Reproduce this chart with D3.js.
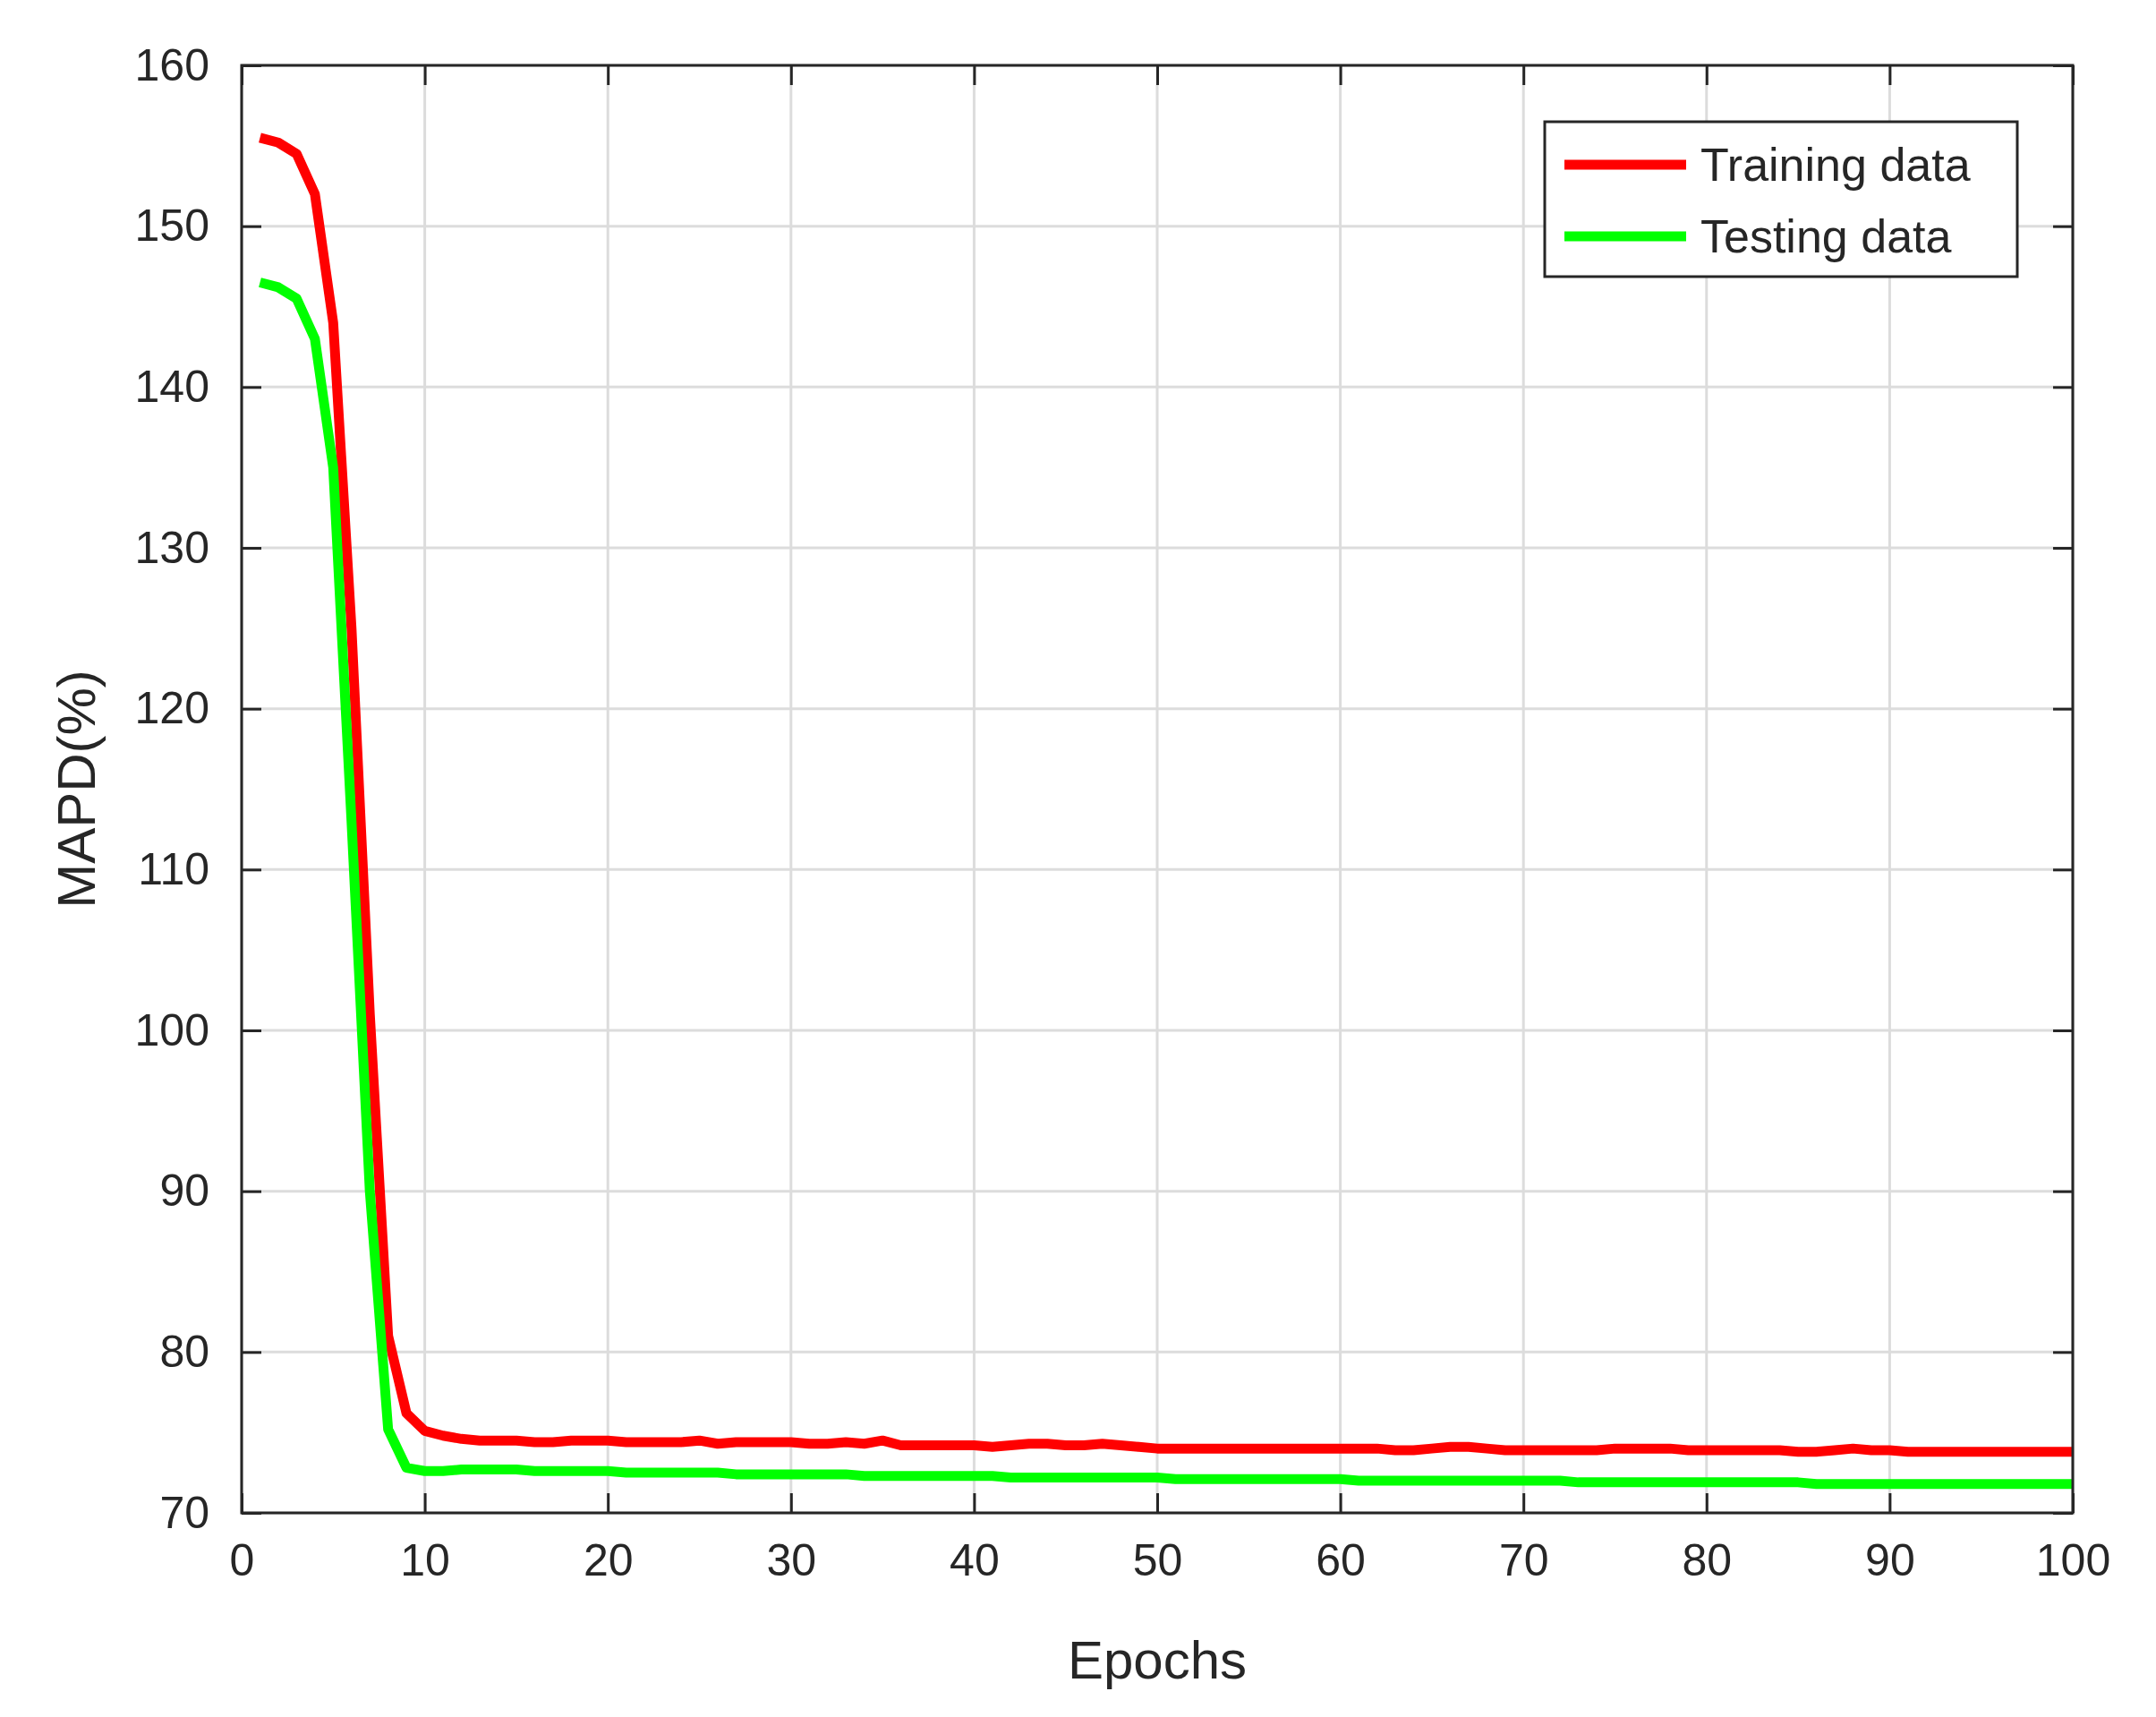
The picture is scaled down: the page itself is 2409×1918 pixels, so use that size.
<!DOCTYPE html>
<html><head><meta charset="utf-8">
<script src="https://cdn.jsdelivr.net/npm/d3@7"></script>
<style>body{margin:0;background:#fff}text{font-family:"Liberation Sans",Arial,sans-serif;fill:#262626}</style>
</head><body><svg id="c" width="2409" height="1918"></svg>
<script>
const epochs = d3.range(1, 101);
const training = [155.5,155.2,154.5,152,144,125,101,81,76.2,75.1,74.8,74.6,74.5,74.5,74.5,74.4,74.4,74.5,74.5,74.5,
74.4,74.4,74.4,74.4,74.5,74.3,74.4,74.4,74.4,74.4,74.3,74.3,74.4,74.3,74.5,74.2,74.2,74.2,74.2,74.2,
74.1,74.2,74.3,74.3,74.2,74.2,74.3,74.2,74.1,74.0,74.0,74.0,74.0,74.0,74.0,74.0,74.0,74.0,74.0,74.0,
74.0,74.0,73.9,73.9,74.0,74.1,74.1,74.0,73.9,73.9,73.9,73.9,73.9,73.9,74.0,74.0,74.0,74.0,73.9,73.9,
73.9,73.9,73.9,73.9,73.8,73.8,73.9,74.0,73.9,73.9,73.8,73.8,73.8,73.8,73.8,73.8,73.8,73.8,73.8,73.8];
const testing = [146.5,146.2,145.5,143,135,113,90,75.2,72.8,72.6,72.6,72.7,72.7,72.7,72.7,72.6,72.6,72.6,72.6,72.6,
72.5,72.5,72.5,72.5,72.5,72.5,72.4,72.4,72.4,72.4,72.4,72.4,72.4,72.3,72.3,72.3,72.3,72.3,72.3,72.3,
72.3,72.2,72.2,72.2,72.2,72.2,72.2,72.2,72.2,72.2,72.1,72.1,72.1,72.1,72.1,72.1,72.1,72.1,72.1,72.1,
72.0,72.0,72.0,72.0,72.0,72.0,72.0,72.0,72.0,72.0,72.0,72.0,71.9,71.9,71.9,71.9,71.9,71.9,71.9,71.9,
71.9,71.9,71.9,71.9,71.9,71.8,71.8,71.8,71.8,71.8,71.8,71.8,71.8,71.8,71.8,71.8,71.8,71.8,71.8,71.8];
const xTicks = d3.range(0, 101, 10);
const yTicks = d3.range(70, 161, 10);
const seriesNames = ["Training data", "Testing data"];
const colors = ["#ff0000", "#00ff00"];

const svg = d3.select("#c");
const L = 270, R = 2316, T = 73, B = 1690;
const x = d3.scaleLinear().domain([0, 100]).range([L, R]);
const y = d3.scaleLinear().domain([70, 160]).range([B, T]);

const g = svg.append("g");
g.selectAll(".gx").data(xTicks).join("line").attr("x1", d => x(d)).attr("x2", d => x(d))
  .attr("y1", T).attr("y2", B).attr("stroke", "#dcdcdc").attr("stroke-width", 3);
g.selectAll(".gy").data(yTicks).join("line").attr("y1", d => y(d)).attr("y2", d => y(d))
  .attr("x1", L).attr("x2", R).attr("stroke", "#dcdcdc").attr("stroke-width", 3);

const line = d3.line().x((d, i) => x(epochs[i])).y(d => y(d));
[training, testing].forEach((s, k) => {
  svg.append("path").datum(s).attr("d", line).attr("fill", "none")
    .attr("stroke", colors[k]).attr("stroke-width", 11).attr("stroke-linejoin", "round");
});

const ax = (sel, axis) => { sel.call(axis); sel.select(".domain").remove();
  sel.selectAll("line").attr("stroke", "#262626").attr("stroke-width", 3);
  sel.selectAll("text").attr("font-size", 50).attr("fill", "#262626").style("font-family", '"Liberation Sans",Arial,sans-serif'); };
svg.append("g").attr("transform", `translate(0,${B})`).call(s => ax(s, d3.axisBottom(x).tickValues(xTicks).tickSizeInner(-22).tickSizeOuter(0).tickPadding(34)));
svg.append("g").attr("transform", `translate(0,${T})`).call(s => ax(s, d3.axisTop(x).tickValues(xTicks).tickSizeInner(-22).tickSizeOuter(0).tickFormat("")));
svg.append("g").attr("transform", `translate(${L},0)`).call(s => ax(s, d3.axisLeft(y).tickValues(yTicks).tickSizeInner(-22).tickSizeOuter(0).tickPadding(36)));
svg.append("g").attr("transform", `translate(${R},0)`).call(s => ax(s, d3.axisRight(y).tickValues(yTicks).tickSizeInner(-22).tickSizeOuter(0).tickFormat("")));
svg.append("rect").attr("x", L).attr("y", T).attr("width", R - L).attr("height", B - T)
  .attr("fill", "none").attr("stroke", "#262626").attr("stroke-width", 3);

svg.append("text").attr("x", (L + R) / 2).attr("y", 1875).attr("text-anchor", "middle").attr("font-size", 60).text("Epochs");
svg.append("text").attr("transform", `translate(106,${(T + B) / 2}) rotate(-90)`).attr("text-anchor", "middle").attr("font-size", 60).text("MAPD(%)");

const lg = svg.append("g");
lg.append("rect").attr("x", 1726).attr("y", 136).attr("width", 528).attr("height", 173)
  .attr("fill", "#fff").attr("stroke", "#262626").attr("stroke-width", 3);
seriesNames.forEach((n, k) => {
  const yy = 184 + k * 80;
  lg.append("line").attr("x1", 1748).attr("x2", 1884).attr("y1", yy).attr("y2", yy).attr("stroke", colors[k]).attr("stroke-width", 11);
  lg.append("text").attr("x", 1900).attr("y", yy + 18).attr("font-size", 52).text(n);
});
</script></body></html>
